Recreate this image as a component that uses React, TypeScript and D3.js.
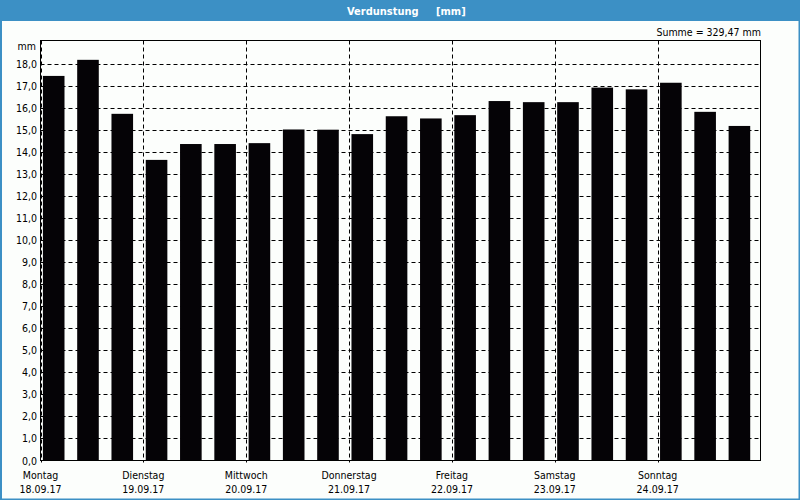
import React from "react";
import * as d3 from "d3";

const dayNames = ["Montag", "Dienstag", "Mittwoch", "Donnerstag", "Freitag", "Samstag", "Sonntag"];
const dayDates = ["18.09.17", "19.09.17", "20.09.17", "21.09.17", "22.09.17", "23.09.17", "24.09.17"];
const values = [
  17.45, 18.18, 15.73,
  13.64, 14.36, 14.36,
  14.40, 15.02, 15.01,
  14.81, 15.62, 15.52,
  15.67, 16.31, 16.26,
  16.26, 16.92, 16.84,
  17.14, 15.82, 15.18,
];
const yTicks = d3.range(0, 19, 1);
const summeLabel = "Summe = 329,47 mm";
const titleMain = "Verdunstung";
const titleUnit = "[mm]";

const W = 800;
const H = 500;
const left = 40.5;
const right = 760.5;
const top = 40.5;
const bottom = 460.5;
const blue = "#3c90c5";
const font = "'DejaVu Sans Condensed', 'DejaVu Sans', Verdana, sans-serif";

export default function App() {
  const start = new Date(2017, 8, 18, 0, 0, 0);
  const end = new Date(2017, 8, 25, 0, 0, 0);
  const x = d3.scaleTime().domain([start, end]).range([left, right]);
  const y = d3.scaleLinear().domain([0, 18]).range([bottom, 63.8]);
  const barTimes = values.map((_, i) => d3.timeHour.offset(start, i * 8));
  const dayTimes = dayNames.map((_, i) => d3.timeDay.offset(start, i));
  const slot = x(barTimes[1]) - x(barTimes[0]);
  const barW = slot * 0.63;
  const barOff = slot * 0.07;
  const fs = 10.5;

  return (
    <svg width={W} height={H} style={{ position: "fixed", left: 0, top: 0, display: "block", fontStretch: "condensed" }} fontFamily={font}>
      <rect x={0} y={0} width={W} height={H} fill="#fcfefc" />
      <rect x={0} y={0} width={W} height={20} fill={blue} />
      <rect x={1} y={20} width={W - 1.5} height={H - 20.5} fill="none" stroke={blue} strokeWidth={2} />
      <text x={347} y={14.5} fill="#ffffff" fontWeight="bold" fontSize={11}>{titleMain}</text>
      <text x={436} y={14.5} fill="#ffffff" fontWeight="bold" fontSize={11}>{titleUnit}</text>

      <text x={761} y={36} textAnchor="end" fontSize={fs} fill="#000">{summeLabel}</text>
      <text x={36} y={50} textAnchor="end" fontSize={fs} fill="#000">mm</text>

      {/* horizontal grid */}
      {yTicks.filter((t) => t > 0).map((t) => (
        <line key={"h" + t} x1={left} x2={right} y1={Math.round(y(t)) + 0.5} y2={Math.round(y(t)) + 0.5}
          stroke="#000" strokeDasharray="4,3" strokeWidth={1} />
      ))}
      {/* vertical grid at day boundaries */}
      {dayTimes.map((t, i) => (
        <line key={"v" + i} x1={Math.round(x(t)) + 0.5} x2={Math.round(x(t)) + 0.5} y1={top} y2={bottom + 2}
          stroke="#000" strokeDasharray="4,3" strokeWidth={1} />
      ))}

      {/* bars */}
      {values.map((v, i) => (
        <rect key={"b" + i} x={x(barTimes[i]) + barOff} y={y(v)} width={barW} height={y(0) - y(v)} fill="#050306" />
      ))}

      {/* frame */}
      <rect x={left} y={top} width={right - left} height={bottom - top} fill="none" stroke="#000" strokeWidth={1} />

      {/* y tick labels */}
      {yTicks.map((t) => (
        <text key={"yl" + t} x={37} y={y(t) + 4} textAnchor="end" fontSize={fs} fill="#000">
          {d3.format(".1f")(t).replace(".", ",")}
        </text>
      ))}

      {/* day labels */}
      {dayTimes.map((t, i) => (
        <g key={"d" + i}>
          <text x={x(t)} y={479} textAnchor="middle" fontSize={fs} fill="#000">{dayNames[i]}</text>
          <text x={x(t)} y={493} textAnchor="middle" fontSize={fs} fill="#000">{dayDates[i]}</text>
        </g>
      ))}
    </svg>
  );
}
